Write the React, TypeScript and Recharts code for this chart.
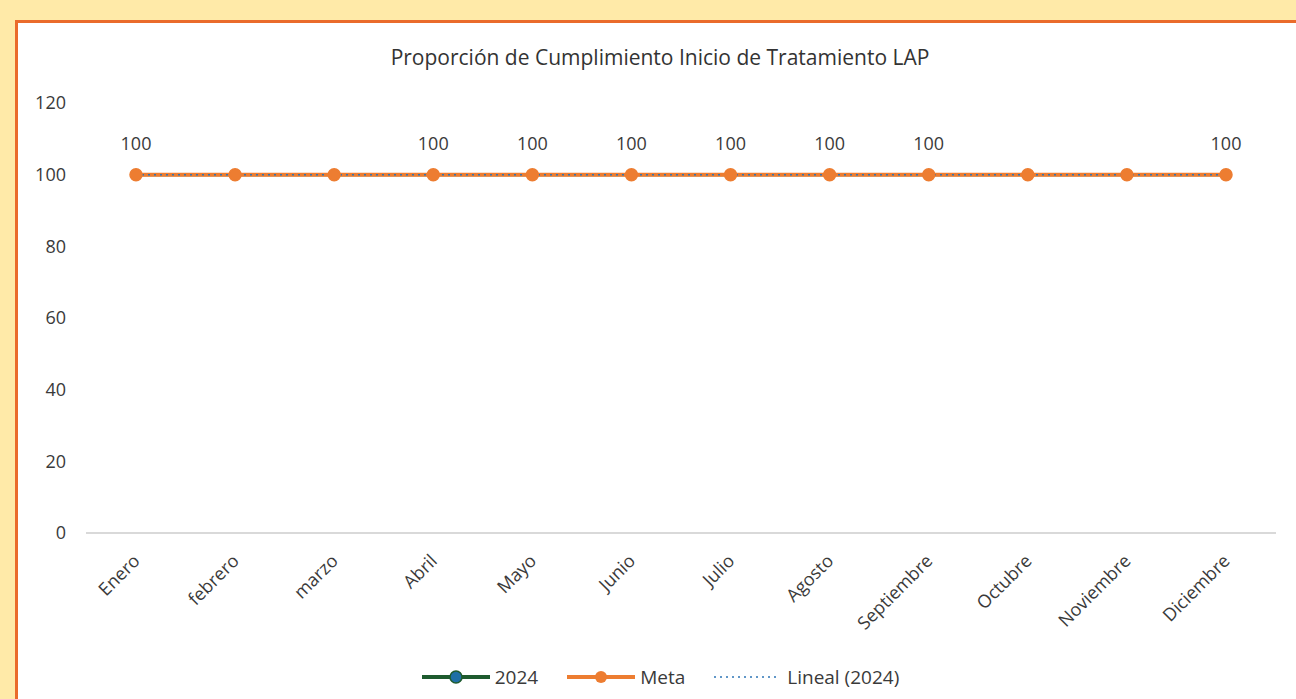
import React from 'react';
import { LineChart, Line, XAxis, YAxis, Legend, LabelList } from 'recharts';

const months = ['Enero', 'febrero', 'marzo', 'Abril', 'Mayo', 'Junio', 'Julio', 'Agosto', 'Septiembre', 'Octubre', 'Noviembre', 'Diciembre'];
const serie2024 = [100, 100, 100, 100, 100, 100, 100, 100, 100, 100, 100, 100];
const meta = [100, 100, 100, 100, 100, 100, 100, 100, 100, 100, 100, 100];
const lineal2024 = [100, 100, 100, 100, 100, 100, 100, 100, 100, 100, 100, 100];
const labelShown = [true, false, false, true, true, true, true, true, true, false, false, true];
const yTicks = [0, 20, 40, 60, 80, 100, 120];

const data = months.map((m, i) => ({
  month: m,
  y2024: serie2024[i],
  meta: meta[i],
  lineal: lineal2024[i],
}));

const FONT = '"Open Sans", sans-serif';
const TEXT = '#3A3A3A';
const ORANGE = '#ED7D31';
const GREEN = '#1E5B2E';
const BLUE = '#2E75B6';

const XTick = (props: any) => {
  const { x, y, payload } = props;
  return (
    <g transform={`translate(${x + 5},${y + 29})`}>
      <text textAnchor="end" transform="rotate(-45)" fontSize={18} fill={TEXT} fontFamily={FONT}>
        {payload.value}
      </text>
    </g>
  );
};

const renderLabel = (props: any) => {
  const { x, y, index, value } = props;
  if (!labelShown[index]) return null;
  return (
    <text x={x} y={y - 25} textAnchor="middle" fontSize={18} fill={TEXT} fontFamily={FONT}>
      {value}
    </text>
  );
};

const LegendContent = () => (
  <div style={{ display: 'flex', alignItems: 'center', justifyContent: 'center', height: 30, fontFamily: FONT, fontSize: 19, color: TEXT, paddingLeft: 0 }}>
    <svg width={70} height={16} style={{ marginRight: 4 }}>
      <line x1={1} y1={8} x2={69} y2={8} stroke={GREEN} strokeWidth={4} />
      <circle cx={35} cy={8} r={6} fill="#1F6FA5" stroke={GREEN} strokeWidth={1.5} />
    </svg>
    <span style={{ marginRight: 28 }}>2024</span>
    <svg width={70} height={16} style={{ marginRight: 4 }}>
      <line x1={1} y1={8} x2={69} y2={8} stroke={ORANGE} strokeWidth={4} />
      <circle cx={35} cy={8} r={6} fill={ORANGE} />
    </svg>
    <span style={{ marginRight: 28 }}>Meta</span>
    <svg width={64} height={16} style={{ marginRight: 10 }}>
      <line x1={1} y1={8} x2={63} y2={8} stroke={BLUE} strokeWidth={1.5} strokeDasharray="2 4" />
    </svg>
    <span>Lineal (2024)</span>
  </div>
);

export default function App() {
  return (
    <div style={{ position: 'absolute', left: 0, top: 0, width: 1296, height: 699, overflow: 'hidden', background: '#FFEAA8' }}>
      <div style={{ position: 'absolute', left: 15, top: 20, width: 1310, height: 720, border: '3px solid #EA6B2B', background: '#FFFFFF' }} />
      <div style={{ position: 'absolute', left: 0, top: 43, width: 1320, textAlign: 'center', fontFamily: FONT, fontSize: 21, fontWeight: 500, color: '#333333' }}>
        Proporción de Cumplimiento Inicio de Tratamiento LAP
      </div>
      <div style={{ position: 'absolute', left: 0, top: 0 }}>
        <LineChart width={1296} height={699} data={data} margin={{ top: 103, right: 20, bottom: 7, left: 0 }}>
          <XAxis
            dataKey="month"
            axisLine={{ stroke: '#D9D9D9', strokeWidth: 2 }}
            tickLine={false}
            tickSize={0}
            tickMargin={0}
            height={129}
            interval={0}
            padding={{ left: 50, right: 50 }}
            tick={<XTick />}
          />
          <YAxis
            domain={[0, 120]}
            ticks={yTicks}
            width={86}
            axisLine={false}
            tickLine={false}
            tickSize={0}
            tickMargin={20}
            tick={{ fontSize: 18, fill: TEXT, fontFamily: FONT }}
          />
          <Legend verticalAlign="bottom" content={<LegendContent />} wrapperStyle={{ left: 0, width: 1320 }} />
          <Line dataKey="y2024" name="2024" stroke={GREEN} strokeWidth={3} dot={{ r: 4, fill: '#1F6FA5', stroke: GREEN, strokeWidth: 1 }} isAnimationActive={false} />
          <Line dataKey="meta" name="Meta" stroke={ORANGE} strokeWidth={4} dot={{ r: 6, fill: ORANGE, stroke: ORANGE, strokeWidth: 1.5 }} isAnimationActive={false}>
            <LabelList dataKey="meta" content={renderLabel} />
          </Line>
          <Line dataKey="lineal" name="Lineal (2024)" stroke={BLUE} strokeWidth={1.5} strokeDasharray="2 4" dot={false} isAnimationActive={false} />
        </LineChart>
      </div>
    </div>
  );
}
